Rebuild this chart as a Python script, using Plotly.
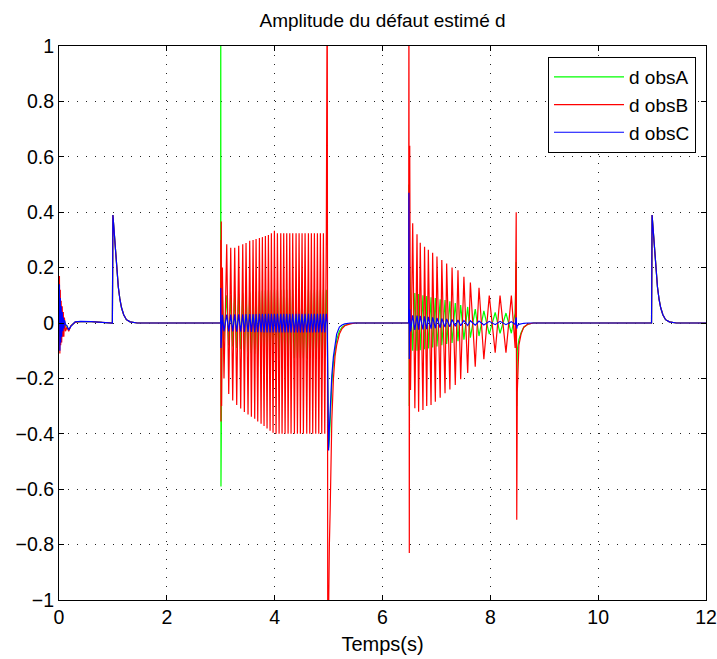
import plotly.graph_objects as go

# ---------------- data ----------------
# initial transient (t = 0 .. 0.95 s)
init_t = [0.0, 0.008, 0.016, 0.024, 0.032, 0.04, 0.05, 0.06, 0.07, 0.08, 0.09, 0.10, 0.12, 0.15, 0.18, 0.22, 0.30, 0.40, 0.60, 0.80, 0.95]
init_A = [0.0, 0.06, -0.05, 0.05, -0.04, 0.04, -0.03, 0.03, -0.02, 0.02, -0.02, 0.01, -0.01, -0.02, -0.025, -0.01, 0.003, 0.005, 0.005, 0.002, 0.0]
init_B = [0.0, 0.17, -0.11, 0.12, -0.08, 0.08, -0.07, 0.06, -0.05, 0.04, -0.05, 0.02, -0.03, -0.015, -0.03, -0.01, 0.003, 0.005, 0.005, 0.002, 0.0]
init_C = [0.0, 0.14, -0.10, 0.09, -0.07, 0.06, -0.05, 0.04, -0.03, 0.02, -0.02, 0.01, -0.005, -0.01, -0.025, -0.012, 0.004, 0.006, 0.005, 0.002, 0.0]

# pulses at t = 1 s and t = 11 s (same for the three observers)
bump1_t = [0.99, 1.0, 1.01, 1.02, 1.04, 1.06, 1.08, 1.10, 1.13, 1.16, 1.20, 1.25, 1.32, 1.45]
bump2_t = [10.99, 11.0, 11.01, 11.02, 11.04, 11.06, 11.08, 11.10, 11.13, 11.16, 11.20, 11.25, 11.32, 11.45]
bump_v = [0.0, 0.39, 0.36, 0.33, 0.27, 0.22, 0.17, 0.13, 0.085, 0.055, 0.03, 0.012, 0.004, 0.0]

# flat (zero) stretches
flat_t = [2.9, 6.4, 10.9, 12.0]
flat_v = [0.0, 0.0, 0.0, 0.0]

# fault 1 onset (t = 3 s)
s1_start_t = [2.998, 3.0, 3.004, 3.010, 3.016, 3.03, 3.06]
s1_start_A = [0.0, 1.3, -0.59, 0.39, -0.2, 0.1, -0.06]
s1_start_B = [0.0, 0.30, -0.356, 0.366, -0.3, 0.2, -0.2]
s1_start_C = [0.0, 0.126, -0.09, 0.06, -0.04, 0.03, -0.03]

# fault 1 oscillation: peak and trough instants
s1_peak_t = [3.111, 3.185, 3.259, 3.333, 3.408, 3.469, 3.537, 3.599, 3.655, 3.717, 3.772, 3.828, 3.884, 3.939, 3.995, 4.051,
             4.113, 4.168, 4.224, 4.280, 4.335, 4.397, 4.453, 4.508, 4.564, 4.626, 4.681, 4.737, 4.793, 4.848, 4.904, 4.958]
s1_trough_t = [3.148, 3.222, 3.296, 3.370, 3.438, 3.506, 3.568, 3.630, 3.686, 3.748, 3.803, 3.859, 3.915, 3.970, 4.026, 4.082,
               4.137, 4.193, 4.249, 4.304, 4.366, 4.422, 4.477, 4.533, 4.595, 4.651, 4.706, 4.762, 4.818, 4.873, 4.929]
s1_peak_A = [0.100, 0.100, 0.103, 0.105, 0.107, 0.109, 0.110, 0.112, 0.113, 0.115, 0.116, 0.117, 0.118, 0.119, 0.120, 0.120,
             0.120, 0.120, 0.120, 0.120, 0.120, 0.120, 0.120, 0.120, 0.120, 0.120, 0.120, 0.120, 0.120, 0.120, 0.120, 0.120]
s1_trough_A = [-0.080, -0.085, -0.090, -0.095, -0.100, -0.104, -0.108, -0.111, -0.114, -0.117, -0.119, -0.121, -0.123, -0.125, -0.127, -0.127,
               -0.127, -0.127, -0.127, -0.127, -0.127, -0.127, -0.127, -0.127, -0.127, -0.127, -0.127, -0.127, -0.127, -0.127, -0.127]
s1_peak_B = [0.284, 0.272, 0.272, 0.279, 0.284, 0.289, 0.297, 0.300, 0.303, 0.307, 0.310, 0.314, 0.318, 0.324, 0.333, 0.324,
             0.324, 0.324, 0.324, 0.324, 0.324, 0.324, 0.324, 0.324, 0.324, 0.324, 0.324, 0.324, 0.324, 0.324, 0.324, 0.324]
s1_trough_B = [-0.256, -0.280, -0.296, -0.309, -0.321, -0.330, -0.338, -0.346, -0.356, -0.364, -0.372, -0.381, -0.389, -0.396, -0.400, -0.400,
               -0.400, -0.400, -0.400, -0.400, -0.400, -0.400, -0.400, -0.400, -0.400, -0.400, -0.400, -0.400, -0.400, -0.400, -0.400]
s1_peak_C = [0.030, 0.030, 0.031, 0.031, 0.031, 0.032, 0.032, 0.032, 0.032, 0.033, 0.033, 0.033, 0.033, 0.033, 0.033, 0.033,
             0.033, 0.033, 0.033, 0.033, 0.033, 0.033, 0.033, 0.033, 0.033, 0.033, 0.033, 0.033, 0.033, 0.033, 0.033, 0.033]
s1_trough_C = [-0.030, -0.030, -0.031, -0.031, -0.032, -0.032, -0.032, -0.033, -0.033, -0.033, -0.034, -0.034, -0.034, -0.034, -0.034, -0.034,
               -0.034, -0.034, -0.034, -0.034, -0.034, -0.034, -0.034, -0.034, -0.034, -0.034, -0.034, -0.034, -0.034, -0.034, -0.034]

# fault 1 end (t = 5 s) and recovery
s1_end_t = [4.975, 4.985, 5.0, 5.015, 5.03, 5.06, 5.09, 5.12, 5.15, 5.2, 5.25, 5.3, 5.4, 5.5]
s1_end_A = [0.0, -0.2, -0.45, -0.42, -0.35, -0.22, -0.14, -0.09, -0.06, -0.03, -0.015, -0.008, -0.002, 0.0]
s1_end_B = [1.3, -1.3, -0.95, -0.8, -0.67, -0.35, -0.2, -0.12, -0.08, -0.04, -0.02, -0.01, -0.003, 0.0]
s1_end_C = [0.0, -0.2, -0.46, -0.38, -0.30, -0.19, -0.12, -0.07, -0.04, -0.015, -0.007, -0.003, 0.0, 0.0]

# fault 2 (t = 6.5 .. 8.5 s)
s2_t = [6.485, 6.49, 6.497, 6.505, 6.52, 6.56, 6.60, 6.64, 6.67, 6.70, 6.75, 6.78, 6.82, 6.85, 6.90, 6.93, 6.98, 7.01, 7.07, 7.10,
        7.16, 7.19, 7.25, 7.29, 7.35, 7.40, 7.45, 7.51, 7.58, 7.63, 7.72, 7.79, 7.88, 7.98, 8.09, 8.18, 8.29, 8.39, 8.46, 8.48,
        8.49, 8.50, 8.53, 8.57, 8.62, 8.70, 8.80]
s2_A = [0.0, 0.5, -0.3, 0.2, 0.11, -0.10, 0.108, -0.10, 0.105, -0.098, 0.10, -0.095, 0.097, -0.092, 0.093, -0.088, 0.09, -0.085, 0.086, -0.08,
        0.083, -0.076, 0.078, -0.072, 0.072, -0.066, 0.065, -0.06, 0.058, -0.053, 0.05, -0.047, 0.044, -0.04, 0.038, -0.037, 0.036, -0.037, 0.036, 0.22,
        -0.30, -0.10, -0.06, -0.035, -0.015, -0.004, 0.0]
s2_B = [0.0, 1.3, -0.83, 0.64, -0.242, 0.36, -0.308, 0.32, -0.32, 0.29, -0.314, 0.275, -0.30, 0.264, -0.296, 0.254, -0.284, 0.24, -0.27, 0.227,
        -0.254, 0.215, -0.24, 0.20, -0.224, 0.19, -0.203, 0.167, -0.18, 0.146, -0.158, 0.127, -0.131, 0.099, -0.107, 0.099, -0.107, 0.099, -0.09, 0.40,
        -0.71, -0.25, -0.08, -0.04, -0.015, -0.004, 0.0]
s2_C = [0.0, 0.47, -0.13, 0.05, -0.03, 0.028, -0.025, 0.027, -0.024, 0.026, -0.023, 0.024, -0.022, 0.022, -0.02, 0.02, -0.019, 0.018, -0.017, 0.016,
        -0.015, 0.015, -0.014, 0.013, -0.012, 0.011, -0.01, 0.009, -0.009, 0.008, -0.008, 0.007, -0.007, 0.006, -0.006, 0.006, -0.006, 0.005, -0.005, 0.02,
        -0.02, -0.01, -0.005, -0.002, -0.001, 0.0, 0.0]

series_names = ["d obsA", "d obsB", "d obsC"]
series_colors = ["#00ff00", "#ff0000", "#0000ff"]
x_ticks = [0, 2, 4, 6, 8, 10, 12]
y_ticks = [-1, -0.8, -0.6, -0.4, -0.2, 0, 0.2, 0.4, 0.6, 0.8, 1]


def interleave(a, b):
    out = []
    for i, v in enumerate(a):
        out.append(v)
        if i < len(b):
            out.append(b[i])
    return out


def build(init_v, s1s, s1p, s1q, s1e, s2v):
    t = (init_t + bump1_t + [flat_t[0]] + s1_start_t + interleave(s1_peak_t, s1_trough_t) + s1_end_t
         + [flat_t[1]] + s2_t + [flat_t[2]] + bump2_t + [flat_t[3]])
    v = (init_v + bump_v + [flat_v[0]] + s1s + interleave(s1p, s1q) + s1e
         + [flat_v[1]] + s2v + [flat_v[2]] + bump_v + [flat_v[3]])
    return t, v


data = [
    build(init_A, s1_start_A, s1_peak_A, s1_trough_A, s1_end_A, s2_A),
    build(init_B, s1_start_B, s1_peak_B, s1_trough_B, s1_end_B, s2_B),
    build(init_C, s1_start_C, s1_peak_C, s1_trough_C, s1_end_C, s2_C),
]

fig = go.Figure()
for (t, v), name, col in zip(data, series_names, series_colors):
    fig.add_trace(go.Scatter(x=t, y=v, mode="lines", name=name, legendgroup=name,
                             line=dict(color=col, width=1.2)))

FONT = "Liberation Sans, Arial, sans-serif"
axis_common = dict(
    showline=True, linecolor="black", linewidth=1, mirror="ticks",
    ticks="inside", ticklen=5, tickcolor="black",
    showgrid=True, gridcolor="#222", gridwidth=1, griddash="1px,8px",
    zeroline=False, automargin=False,
    tickfont=dict(family=FONT, size=19.5, color="black"),
)

fig.update_layout(
    width=717, height=659,
    margin=dict(l=59, r=11, t=46, b=59),
    paper_bgcolor="white", plot_bgcolor="white",
    font=dict(family=FONT, color="black"),
    title=dict(text="Amplitude du défaut estimé d", x=0.5, xref="paper", xanchor="center",
               y=1 - 20 / 659, yref="container", yanchor="middle",
               font=dict(size=19, color="black")),
    xaxis=dict(range=[0, 12], tickvals=x_ticks,
               title=dict(text="Temps(s)", font=dict(size=20), standoff=9), **axis_common),
    yaxis=dict(range=[-1, 1], tickvals=y_ticks, **axis_common),
    legend=dict(x=(696 - 59) / 647, xanchor="right", y=(600 - 57) / 554, yanchor="top",
                bgcolor="white", bordercolor="black", borderwidth=1,
                font=dict(size=19, color="black"), tracegroupgap=0, itemwidth=70),
    showlegend=True,
)

fig.write_html("out.html", config={"displayModeBar": False},
               post_script="document.body.style.margin='0';document.body.style.padding='0';")
